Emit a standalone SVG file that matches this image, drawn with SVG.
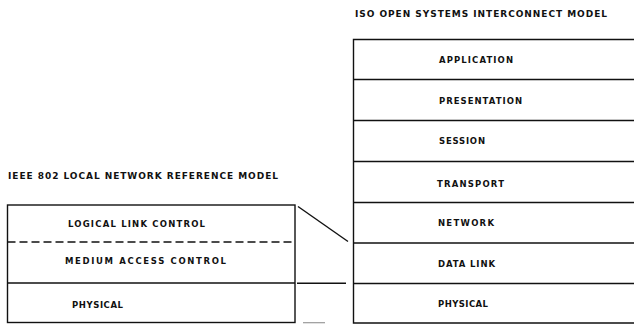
<svg xmlns="http://www.w3.org/2000/svg" width="634" height="324" viewBox="0 0 634 324">
<style>
.ln{stroke:#111;stroke-width:1.4;fill:none}
.dash{stroke:#111;stroke-width:1.4;fill:none;stroke-dasharray:8 4}
.lbl{font-family:"DejaVu Sans","Liberation Sans",Arial,sans-serif;font-size:8.5px;font-weight:bold;fill:#111}
.ttl{font-family:"DejaVu Sans","Liberation Sans",Arial,sans-serif;font-size:9px;font-weight:bold;fill:#111}
</style>
<rect width="634" height="324" fill="#fff"/>
<text class="ttl" x="355" y="17" textLength="252" lengthAdjust="spacing">ISO OPEN SYSTEMS INTERCONNECT MODEL</text>
<text class="ttl" x="8" y="179" textLength="270" lengthAdjust="spacing">IEEE  802 LOCAL NETWORK REFERENCE MODEL</text>
<g id="iso-stack">
<path class="ln" d="M640 39.5H353.5V323H640"/>
</g>
<g id="iso-application"><path class="ln" d="M353.5 79.5H640"/><text class="lbl" x="439" y="63" textLength="74" lengthAdjust="spacing">APPLICATION</text></g>
<g id="iso-presentation"><path class="ln" d="M353.5 120.5H640"/><text class="lbl" x="439" y="103.5" textLength="83" lengthAdjust="spacing">PRESENTATION</text></g>
<g id="iso-session"><path class="ln" d="M353.5 161.5H640"/><text class="lbl" x="439" y="144" textLength="46" lengthAdjust="spacing">SESSION</text></g>
<g id="iso-transport"><path class="ln" d="M353.5 202.5H640"/><text class="lbl" x="437" y="187" textLength="67" lengthAdjust="spacing">TRANSPORT</text></g>
<g id="iso-network"><path class="ln" d="M353.5 243H640"/><text class="lbl" x="438" y="226" textLength="56" lengthAdjust="spacing">NETWORK</text></g>
<g id="iso-datalink"><path class="ln" d="M353.5 283.5H640"/><text class="lbl" x="438" y="266.5" textLength="57" lengthAdjust="spacing">DATA LINK</text></g>
<g id="iso-physical"><text class="lbl" x="438" y="307" textLength="50" lengthAdjust="spacing">PHYSICAL</text></g>
<g id="ieee-stack">
<rect class="ln" x="7.5" y="205" width="287.5" height="117.5"/>
</g>
<g id="ieee-llc"><path class="dash" d="M7.5 242H295"/><text class="lbl" x="68" y="227" textLength="137" lengthAdjust="spacing">LOGICAL LINK CONTROL</text></g>
<g id="ieee-mac"><path class="ln" d="M7.5 283H295"/><text class="lbl" x="65" y="264" textLength="161" lengthAdjust="spacing">MEDIUM ACCESS CONTROL</text></g>
<g id="ieee-physical"><text class="lbl" x="72" y="307.5" textLength="51" lengthAdjust="spacing">PHYSICAL</text></g>
<g id="connectors">
<path class="ln" d="M298 206.5L348 241.5"/>
<path class="ln" d="M297 283.3H346"/>
<path d="M303 322.7H325" stroke="#999" stroke-width="1.2"/>
</g>
</svg>
